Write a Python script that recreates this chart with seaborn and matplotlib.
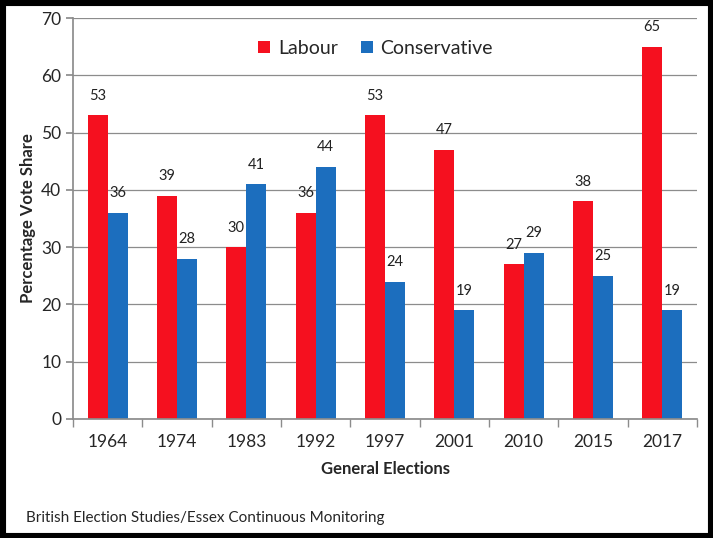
import matplotlib
matplotlib.use("Agg")
import matplotlib.pyplot as plt
import seaborn as sns
import pandas as pd

years = ["1964", "1974", "1983", "1992", "1997", "2001", "2010", "2015", "2017"]
labour = [53, 39, 30, 36, 53, 47, 27, 38, 65]
conservative = [36, 28, 41, 44, 24, 19, 29, 25, 19]
series_names = ["Labour", "Conservative"]
colors = ["#F5101F", "#1C6EBE"]

sns.set_theme(style="white")
plt.rcParams['font.family'] = ['Lato', 'DejaVu Sans']

df = pd.DataFrame({
    "year": years * 2,
    "value": labour + conservative,
    "party": [series_names[0]] * len(years) + [series_names[1]] * len(years),
})

fig = plt.figure(figsize=(7.13, 5.38), dpi=100)
ax = fig.add_axes([0.1024, 0.2212, 0.8752, 0.7453])
sns.barplot(data=df, x="year", y="value", hue="party", palette=colors,
            width=0.58, ax=ax, saturation=1, errorbar=None, linewidth=0)

for cont in ax.containers:
    ax.bar_label(cont, padding=9, fontsize=10.5, color="#222222")

ax.set_ylim(0, 70)
ax.set_yticks(range(0, 71, 10))
ax.set_xlim(-0.5, len(years) - 0.5)
ax.yaxis.grid(True, color="#8c8c8c", linewidth=0.9)
ax.set_axisbelow(True)
for s in ["top", "right"]:
    ax.spines[s].set_visible(False)
ax.spines["left"].set_color("#8c8c8c")
ax.spines["bottom"].set_color("#8c8c8c")
ax.set_xticks([i - 0.5 for i in range(len(years) + 1)], minor=True)
ax.tick_params(axis="x", which="minor", length=6, color="#8c8c8c", bottom=True)
ax.tick_params(axis="x", which="major", length=0, labelsize=12.5, pad=11)
ax.tick_params(axis="y", length=5, color="#8c8c8c", labelsize=12.5, left=True)
ax.set_xlabel("General Elections", fontsize=12, fontweight="bold", labelpad=8)
ax.set_ylabel("Percentage Vote Share", fontsize=12, fontweight="bold", labelpad=4)

leg = ax.legend(loc="upper center", bbox_to_anchor=(0.485, 0.99), ncol=2, frameon=False,
                fontsize=14, handlelength=0.6, handleheight=0.6, columnspacing=1.2,
                handletextpad=0.4, title=None)

fig.text(0.037, 0.038, "British Election Studies/Essex Continuous Monitoring",
         fontsize=11, ha="left", va="center")

border = plt.Rectangle((0, 0), 1, 1, transform=fig.transFigure, fill=False,
                       edgecolor="black", linewidth=8, zorder=10)
fig.patches.append(border)

fig.savefig("out.png", dpi=100)
